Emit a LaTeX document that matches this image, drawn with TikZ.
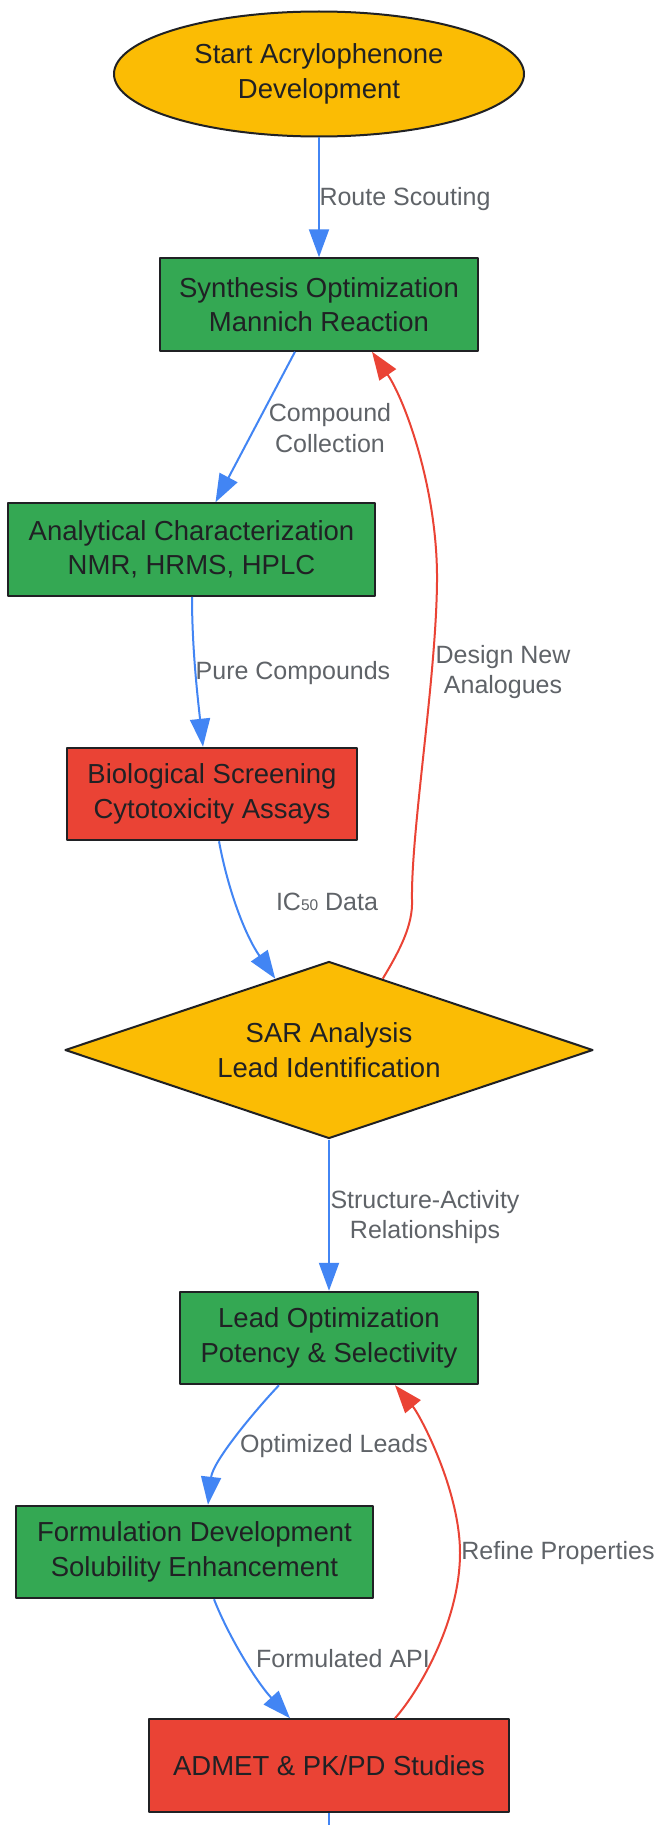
\documentclass[tikz,border=0pt]{standalone}
\usepackage{fontspec}
\setmainfont{Liberation Sans}
\usetikzlibrary{shapes.geometric,arrows.meta}

\definecolor{gYellow}{HTML}{FBBC04}
\definecolor{gGreen}{HTML}{34A853}
\definecolor{gRed}{HTML}{EA4335}
\definecolor{gBlue}{HTML}{4285F4}
\definecolor{inkDark}{HTML}{202124}
\definecolor{inkGray}{HTML}{5F6368}

\begin{document}
\begin{tikzpicture}[x=1pt,y=-1pt,line join=round]
    \tikzstyle{procbox}=[rectangle,draw=inkDark,line width=2pt,text=inkDark,align=center,inner sep=0pt,minimum height=92.5pt,font=\fontsize{27.5}{34.5}\selectfont]
    \tikzstyle{edgelabel}=[text=inkGray,align=center,inner sep=0pt,font=\fontsize{25}{30.5}\selectfont]
    \tikzstyle{flow}=[draw=gBlue,line width=2pt,-{Triangle[length=28pt,width=20pt]}]
    \tikzstyle{loopback}=[draw=gRed,line width=2pt,-{Triangle[length=28pt,width=20pt]}]

    \useasboundingbox[fill=white] (0,0) rectangle (662,1825);

    \node[ellipse,draw=inkDark,fill=gYellow,line width=2pt,text=inkDark,align=center,inner sep=0pt,
          minimum width=410pt,minimum height=125pt,font=\fontsize{27.5}{34.5}\selectfont]
        (start) at (319,74) {Start Acrylophenone\\Development};

    \foreach \name/\x/\y/\w/\col/\txt in {
            synth/319/304.5/318/gGreen/{Synthesis Optimization\\Mannich Reaction},
            analyt/191.5/549.5/367/gGreen/{Analytical Characterization\\NMR, HRMS, HPLC},
            bio/212/794/290/gRed/{Biological Screening\\Cytotoxicity Assays},
            leadopt/329/1338/298/gGreen/{Lead Optimization\\Potency \& Selectivity},
            formul/194.5/1552/357/gGreen/{Formulation Development\\Solubility Enhancement},
            admet/329/1765.5/360/gRed/{ADMET \& PK/PD Studies}}
        \node[procbox,fill=\col,minimum width=\w pt] (\name) at (\x,\y) {\txt};

    \node[diamond,draw=inkDark,fill=gYellow,line width=2pt,text=inkDark,align=center,inner sep=0pt,
          aspect=2.98,minimum width=528pt,minimum height=177pt,font=\fontsize{27.5}{34.5}\selectfont]
        (sar) at (329,1050) {SAR Analysis\\Lead Identification};

    \coordinate (tail) at (329,1825);

    % forward flow
    \draw[flow] (start.south) -- (synth.north);
    \draw[flow] ([xshift=-24pt]synth.south) -- ([xshift=24pt]analyt.north);
    \draw[flow] ([xshift=0.5pt]analyt.south) .. controls (192,650) and (198,700) .. ([xshift=-9pt]bio.north);
    \draw[flow] ([xshift=7pt]bio.south) .. controls (228,890) and (245,935) .. (sar.127);
    \draw[flow] (sar.south) -- (leadopt.north);
    \draw[flow] ([xshift=-50pt]leadopt.south) .. controls (260,1405) and (213,1460) .. ([xshift=13.5pt]formul.north);
    \draw[flow] ([xshift=19.5pt]formul.south) .. controls (228,1635) and (255,1680) .. ([xshift=-39pt]admet.north);
    \draw[draw=gBlue,line width=2pt] (admet.south) -- (tail);

    % feedback loops
    \draw[loopback] (sar.53) .. controls (400,950) and (413,925) .. (412,900)
        .. controls (411,830) and (436,680) .. (437,582)
        .. controls (438,490) and (405,400) .. ([xshift=53pt]synth.south);
    \draw[loopback] ([xshift=66pt]admet.north) .. controls (420,1690) and (460,1620) .. (460,1553)
        .. controls (460,1490) and (420,1415) .. ([xshift=66pt]leadopt.south);

    \foreach \name/\x/\y/\txt in {
            lblscout/405/199/{Route Scouting},
            lblcollect/330/428/{Compound\\Collection},
            lblpure/293/673/{Pure Compounds},
            lbldesign/503/672/{Design New\\Analogues},
            lblic/327/902/{IC{\fontsize{15.5}{15.5}\selectfont 50} Data},
            lblsar/425/1217/{Structure-Activity\\Relationships},
            lblleads/334/1446/{Optimized Leads},
            lblrefine/558/1553/{Refine Properties},
            lblapi/343/1659/{Formulated API}}
        \node[edgelabel] (\name) at (\x,\y) {\txt};
\end{tikzpicture}
\end{document}
